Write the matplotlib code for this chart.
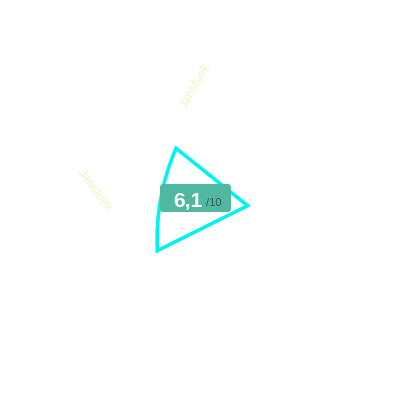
import numpy as np
import matplotlib.pyplot as plt
from matplotlib.path import Path
from matplotlib.patches import PathPatch, FancyBboxPatch

# radar data (score out of 10)
axis_labels = ["Jansfoek", "Jansfoek"]
scores = [5.9, 7.0, 5.5]
max_score = 10
score_text = "6,1"
max_text = "/10"

fig = plt.figure(figsize=(4, 4), dpi=100)
ax = fig.add_axes([0, 0, 1, 1])
# axes in pixel units, y downwards like the page
ax.set_xlim(0, 400)
ax.set_ylim(400, 0)
ax.axis("off")

# radar geometry
cx, cy = 197, 199
R = 93.0  # radius of max score in px
start = np.deg2rad(112.5)
ang = start + np.arange(len(scores)) * 2 * np.pi / len(scores)
r = np.array(scores) / max_score * R
px = cx + r * np.cos(ang)
py = cy - r * np.sin(ang)

# top -> (curved) -> bottom-left -> right -> close
p0 = np.array([px[0], py[0]])
p1 = np.array([px[1], py[1]])
p2 = np.array([px[2], py[2]])
mid = (p0 + p1) / 2
chord = p1 - p0
normal = np.array([chord[1], -chord[0]]) / np.hypot(*chord)
if np.dot(normal, mid - np.array([cx, cy])) < 0:
    normal = -normal
ctrl = mid + normal * 12
verts = [p0, ctrl, p1, p2, p0]
codes = [Path.MOVETO, Path.CURVE3, Path.CURVE3, Path.LINETO, Path.CLOSEPOLY]
ax.add_patch(PathPatch(Path(verts, codes), facecolor="none", edgecolor="#00f2f2",
                       lw=2.6, joinstyle="miter"))

# axis labels
ax.text(196, 86, axis_labels[0], rotation=60, ha="center", va="center",
        fontsize=9, color="#eaf8c4", family="Liberation Sans")
ax.text(94, 191, axis_labels[1], rotation=-54, ha="center", va="center",
        fontsize=9, color="#eaf8c4", family="Liberation Sans")

# score badge
ax.add_patch(FancyBboxPatch((160, 184), 71, 28, boxstyle="round,pad=0,rounding_size=3",
                            facecolor="#50b8a0", edgecolor="none", zorder=3))
ax.text(203, 207, score_text, ha="right", va="baseline", fontsize=15, fontweight="bold",
        color="white", family="Liberation Sans", zorder=4)
ax.text(206, 206, max_text, ha="left", va="baseline", fontsize=8,
        color="#2d5f54", family="Liberation Sans", zorder=4)

fig.savefig("out.png", dpi=100)
